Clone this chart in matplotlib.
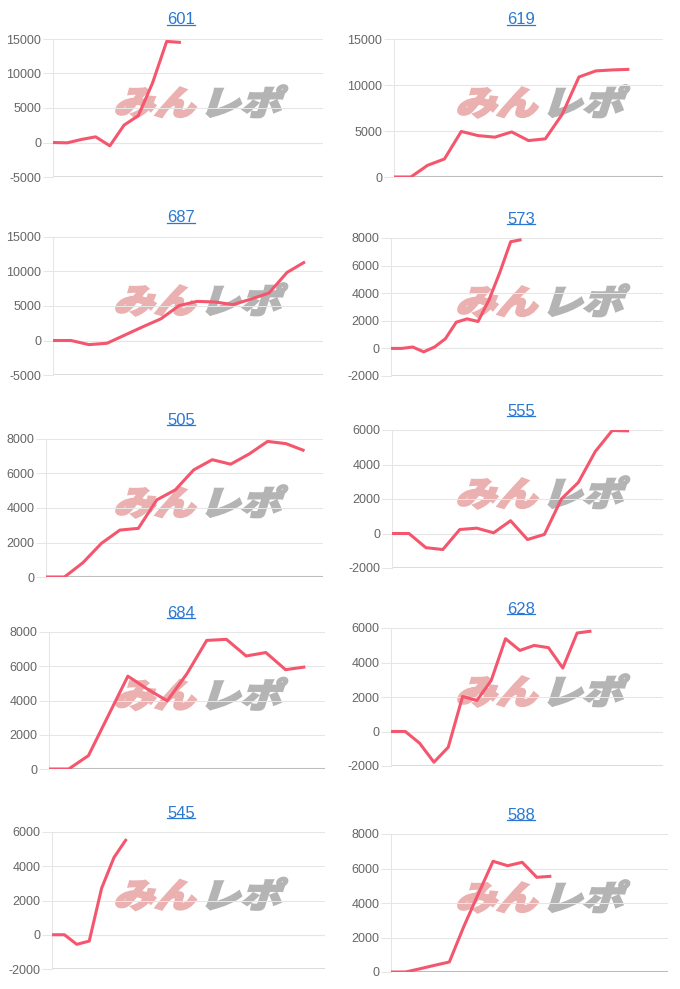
import matplotlib
matplotlib.use("Agg")
import matplotlib.pyplot as plt
from matplotlib.textpath import TextPath
from matplotlib.patches import PathPatch
from matplotlib.font_manager import FontProperties
from matplotlib.transforms import Affine2D
from matplotlib.lines import Line2D

# ---------------------------------------------------------------------------
# Data: cumulative balance per machine, one point per day
# ---------------------------------------------------------------------------
titles = ["601", "619", "687", "573", "505", "555", "684", "628", "545", "588"]

s601 = [0, -50, 440, 820, -480, 2520, 3880, 8600, 14650, 14500]
s619 = [0, 0, 1270, 1960, 4950, 4500, 4330, 4900, 3960, 4150, 6800, 10870,
        11530, 11640, 11700]
s687 = [0, 0, -600, -400, 800, 2000, 3150, 5050, 5670, 5580, 5200, 6000,
        6880, 9860, 11400]
s573 = [0, 0, 100, -250, 100, 700, 1900, 2140, 1950, 3500, 5500, 7730, 7880]
s505 = [0, 0, 830, 1950, 2720, 2820, 4470, 5050, 6210, 6800, 6540, 7130,
        7860, 7730, 7320]
s555 = [0, 0, -820, -930, 230, 310, 40, 740, -350, -50, 2000, 2960, 4750,
        5970, 5950]
s684 = [0, 0, 780, 3100, 5420, 4660, 3980, 5570, 7510, 7570, 6600, 6800,
        5800, 5960]
s628 = [0, 0, -680, -1780, -910, 2030, 1800, 2960, 5380, 4700, 4990, 4860,
        3680, 5710, 5820]
s545 = [0, 0, -560, -370, 2720, 4520, 5590]
s588 = [0, 0, 190, 390, 580, 2650, 4550, 6420, 6160, 6360, 5490, 5550]

series = [s601, s619, s687, s573, s505, s555, s684, s628, s545, s588]

# number of day slots on each x axis
slots = [20, 17, 16, 26, 16, 17, 15, 20, 23, 20]

# y ticks (low, high, step)
yticks = [(-5000, 15000, 5000), (0, 15000, 5000), (-5000, 15000, 5000),
          (-2000, 8000, 2000), (0, 8000, 2000), (-2000, 6000, 2000),
          (0, 8000, 2000), (-2000, 6000, 2000), (-2000, 6000, 2000),
          (0, 8000, 2000)]

# ---------------------------------------------------------------------------
# Layout (pixels, origin top-left): plot area left, top, right, bottom
# ---------------------------------------------------------------------------
W, H, DPI = 680, 989, 100
boxes = [(53, 39, 323, 177), (394, 39, 663, 177),
         (53, 237, 323, 375), (391, 238, 663, 376),
         (46, 439, 323, 577), (392, 430, 663, 568),
         (49, 632, 325, 769), (391, 628, 663, 766),
         (52, 832, 325, 969), (391, 834, 668, 972)]

LINE = "#f4566e"
GRID = "#e6e6e6"
ZERO = "#bdbdbd"
TITLE_C = "#2b78d4"
FONT = "Liberation Sans"

fig = plt.figure(figsize=(W / DPI, H / DPI), dpi=DPI)
fig.patch.set_facecolor("white")

wm_font = FontProperties(family="Noto Sans CJK JP", weight="black")


def watermark(x, y_bottom):
    """Italic-ish 'みんレポ' logo, x / y in pixels from the top-left."""
    for txt, col, dx in [("みん", "#ebb0b0", 0), ("レポ", "#b4b4b4", 86)]:
        tp = TextPath((0, 0), txt, size=34, prop=wm_font)
        tr = (Affine2D().scale(1.2, 1.0).skew_deg(18, 0)
              .translate(x + dx, H - y_bottom).scale(1 / DPI)
              + fig.dpi_scale_trans)
        fig.add_artist(PathPatch(tp, transform=tr, fc=col, ec=col,
                                 linewidth=1.6, zorder=-1))


title_texts = []
for i, (name, vals) in enumerate(zip(titles, series)):
    l, t, r, b = boxes[i]
    ax = fig.add_axes([l / W, 1 - b / H, (r - l) / W, (b - t) / H])
    ax.set_facecolor("none")

    lo, hi, step = yticks[i]
    ticks = list(range(lo, hi + 1, step))
    ax.set_ylim(lo, hi)
    ax.set_xlim(0, slots[i] - 1)
    ax.set_yticks(ticks)
    ax.set_yticklabels([str(v) for v in ticks], family=FONT)
    ax.set_xticks([])

    ax.grid(axis="y", color=GRID, linewidth=0.75, zorder=0)
    if lo < 0:
        ax.axhline(0, color=ZERO, linewidth=0.75, zorder=1)
        ax.axhline(lo, color="#d6d6d6", linewidth=1.2, zorder=1)
    else:
        ax.axhline(lo, color=ZERO, linewidth=1.5, zorder=1)

    for sp in ["top", "right", "bottom"]:
        ax.spines[sp].set_visible(False)
    ax.spines["left"].set_color(GRID)
    ax.spines["left"].set_linewidth(0.75)
    ax.tick_params(axis="y", length=7, width=0.75, color=GRID, pad=1.5,
                   labelsize=9, labelcolor="#666666")

    ax.plot(range(len(vals)), vals, color=LINE, linewidth=2.2,
            solid_joinstyle="round", solid_capstyle="butt", zorder=3)

    col_left = i % 2 == 0
    cx = 181 if col_left else 521
    tt = fig.text(cx / W, 1 - (t - 19) / H, name, ha="center", va="center",
                  fontsize=12, color=TITLE_C, family=FONT)
    title_texts.append(tt)

    wx = 113 if col_left else 455
    watermark(wx, (t + b) / 2 + 7)

# underline the titles (they are links)
fig.canvas.draw()
for tt in title_texts:
    bb = tt.get_window_extent()
    y = (bb.y0 + 2.5) / H
    fig.add_artist(Line2D([bb.x0 / W, bb.x1 / W], [y, y], color=TITLE_C,
                          linewidth=0.9))

fig.savefig("out.png", dpi=DPI, facecolor="white")
